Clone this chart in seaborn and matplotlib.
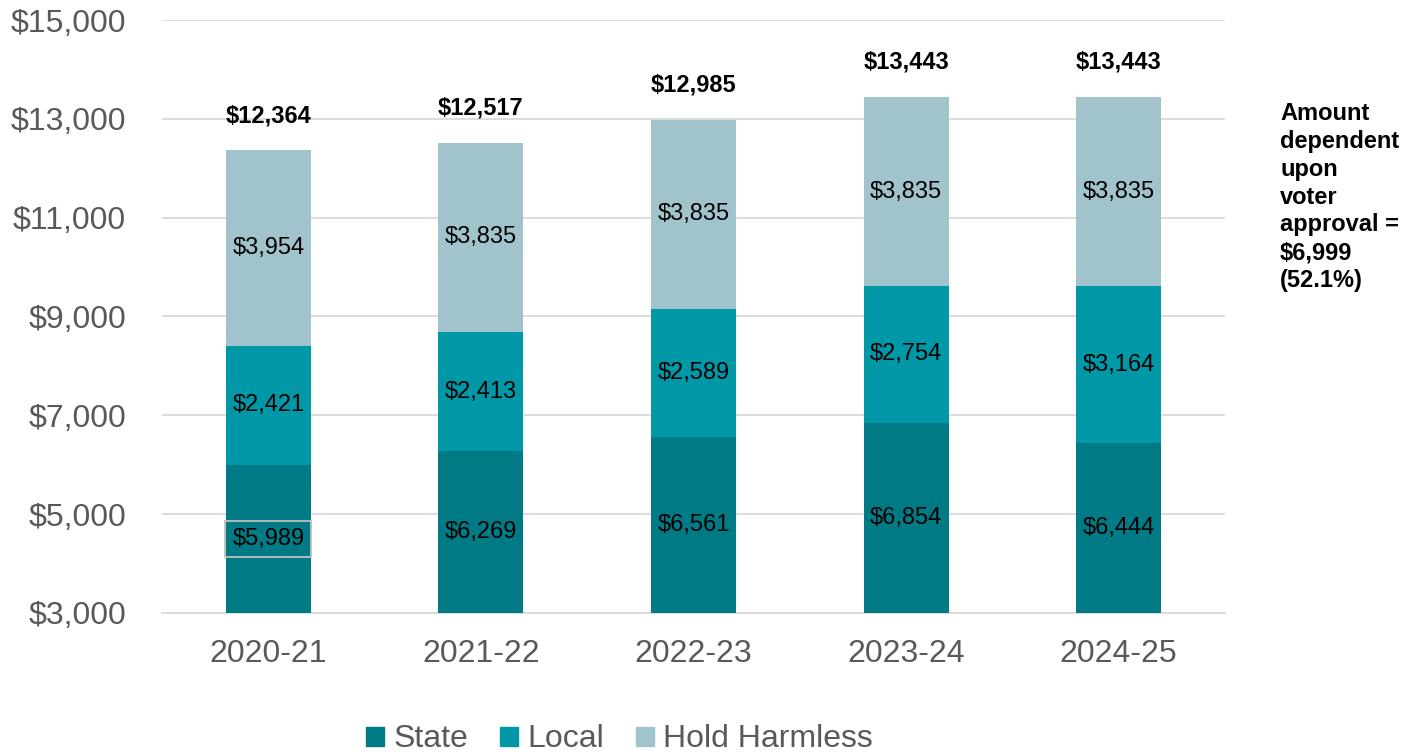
import numpy as np
import pandas as pd
import matplotlib
matplotlib.use('Agg')
import matplotlib.pyplot as plt
import matplotlib.patches as mpatches
import seaborn as sns

# data
years = ['2020-21', '2021-22', '2022-23', '2023-24', '2024-25']
state = [5989, 6269, 6561, 6854, 6444]
local = [2421, 2413, 2589, 2754, 3164]
hold_harmless = [3954, 3835, 3835, 3835, 3835]
totals = [12364, 12517, 12985, 13443, 13443]
note = 'Amount\ndependent\nupon\nvoter\napproval =\n$6,999\n(52.1%)'

c_state = '#007B85'
c_local = '#0098A6'
c_hold = '#A1C4CC'
grid_c = '#D9D9D9'
tick_c = '#595959'

sns.set_style('white')
plt.rcParams['font.family'] = ['Liberation Sans', 'DejaVu Sans']
plt.rcParams['text.color'] = 'black'

df = pd.DataFrame({'year': years, 'state': state, 'local': local, 'hold': hold_harmless})
df['sl'] = df['state'] + df['local']
df['total'] = df['sl'] + df['hold']

fig = plt.figure(figsize=(14.15, 7.53), dpi=100)
ax = fig.add_axes([0.1145, 0.186, 0.7512, 0.7874])

# stacked by overdrawing cumulative totals
bar_kw = dict(width=0.4, saturation=1, linewidth=0, ax=ax)
sns.barplot(data=df, x='year', y='total', color=c_hold, zorder=2, **bar_kw)
sns.barplot(data=df, x='year', y='sl', color=c_local, zorder=3, **bar_kw)
sns.barplot(data=df, x='year', y='state', color=c_state, zorder=4, **bar_kw)

ax.set_ylim(3000, 15000)
ax.set_yticks(np.arange(3000, 15001, 2000))
ax.set_yticklabels([f'${v:,}' for v in range(3000, 15001, 2000)])
ax.yaxis.grid(True, color=grid_c, lw=1.3, zorder=0)
ax.set_axisbelow(True)
for s in ['top', 'right', 'left']:
    ax.spines[s].set_visible(False)
ax.spines['bottom'].set_color(grid_c)
ax.spines['bottom'].set_linewidth(1.3)
ax.tick_params(axis='y', length=0, pad=26, labelsize=23, labelcolor=tick_c)
ax.tick_params(axis='x', length=0, pad=19, labelsize=23, labelcolor=tick_c)
ax.set_xlabel('')
ax.set_ylabel('')

ymin = 3000
for i, row in df.iterrows():
    y_s = (ymin + row['state']) / 2
    t = ax.text(i, y_s, f"${row['state']:,}", ha='center', va='center', fontsize=17, color='black', zorder=6)
    if i == 0:
        t.set_bbox(dict(boxstyle='square,pad=0.3', fc='none', ec='#BFBFBF', lw=1.3))
    ax.text(i, (row['state'] + row['sl']) / 2, f"${row['local']:,}", ha='center', va='center',
            fontsize=17, color='black', zorder=6)
    ax.text(i, (row['sl'] + row['total']) / 2, f"${row['hold']:,}", ha='center', va='center',
            fontsize=17, color='black', zorder=6)
    ax.annotate(f"${totals[i]:,}", (i, row['total']), xytext=(0, 25), textcoords='offset points',
                ha='center', va='center', fontsize=17, fontweight='bold', color='black')

fig.text(1280 / 1415, 1 - 102 / 753, note, ha='left', va='top', fontsize=17, fontweight='bold',
         linespacing=1.27, color='black')

handles = [mpatches.Patch(color=c_state, label='State'),
           mpatches.Patch(color=c_local, label='Local'),
           mpatches.Patch(color=c_hold, label='Hold Harmless')]
leg = fig.legend(handles=handles, loc='center', bbox_to_anchor=(0.438, 0.018), ncol=3, frameon=False,
                 fontsize=23, handlelength=0.55, handleheight=0.55, handletextpad=0.3, columnspacing=1.0)
for t in leg.get_texts():
    t.set_color(tick_c)

fig.savefig('out.png', dpi=100)
